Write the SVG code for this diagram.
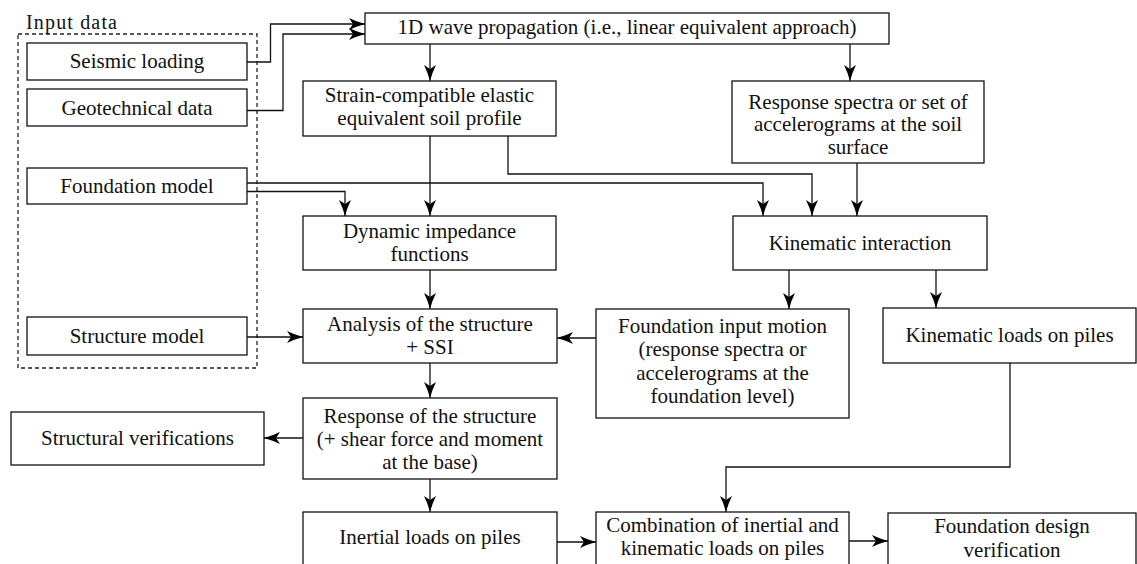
<svg xmlns="http://www.w3.org/2000/svg" width="1137" height="564" viewBox="0 0 1137 564" font-family="Liberation Serif, serif">
<style>
.box{fill:#fff;stroke:#111;stroke-width:1.3}
.dash{fill:none;stroke:#222;stroke-width:1.3;stroke-dasharray:4 3}
text{font-family:'Liberation Serif',serif;font-size:21px;fill:#111;text-anchor:middle}
.lbl{text-anchor:start;font-size:20px}
#connectors path{fill:none;stroke:#111;stroke-width:1.3}
</style>
<defs>
<marker id="arr" markerUnits="userSpaceOnUse" markerWidth="20" markerHeight="16" viewBox="-17 -8 18 16" refX="0" refY="0" orient="auto">
<path d="M0,0 Q-9,-2.5 -16,-6 L-12,0 L-16,6 Q-9,2.5 0,0 Z" fill="#000"/>
</marker>
</defs>
<rect width="1137" height="564" fill="#fff"/>
<g id="input-data">
<rect class="dash" x="18" y="34" width="239" height="334"/>
<text class="lbl" x="26" y="29" textLength="91">Input data</text>
</g>
<g id="connectors">
<path d="M247,62 H270.5 V24 H365" marker-end="url(#arr)"/>
<path d="M247,110.5 H283 V34 H365" marker-end="url(#arr)"/>
<path d="M430,44 V81" marker-end="url(#arr)"/>
<path d="M850,44 V81" marker-end="url(#arr)"/>
<path d="M430,136 V216" marker-end="url(#arr)"/>
<path d="M508,136 V174 H812 V216" marker-end="url(#arr)"/>
<path d="M247,183 H763 V216" marker-end="url(#arr)"/>
<path d="M247,191.5 H345 V216" marker-end="url(#arr)"/>
<path d="M857,163 V216" marker-end="url(#arr)"/>
<path d="M430,270 V309" marker-end="url(#arr)"/>
<path d="M247,337 H303" marker-end="url(#arr)"/>
<path d="M596,338 H557" marker-end="url(#arr)"/>
<path d="M789,270 V309" marker-end="url(#arr)"/>
<path d="M936,270 V308" marker-end="url(#arr)"/>
<path d="M430,363 V398" marker-end="url(#arr)"/>
<path d="M303,438 H264" marker-end="url(#arr)"/>
<path d="M430,479 V512" marker-end="url(#arr)"/>
<path d="M1010,363 V467 H726 V512" marker-end="url(#arr)"/>
<path d="M557,542 H596" marker-end="url(#arr)"/>
<path d="M849,541 H888" marker-end="url(#arr)"/>
</g>
<g id="seismic-loading">
<rect class="box" x="27" y="43" width="220" height="37"/>
<text x="137" y="68">Seismic loading</text>
</g>
<g id="geotechnical-data">
<rect class="box" x="27" y="89" width="220" height="37"/>
<text x="137" y="114.5">Geotechnical data</text>
</g>
<g id="foundation-model">
<rect class="box" x="27" y="168" width="220" height="36"/>
<text x="137" y="193">Foundation model</text>
</g>
<g id="structure-model">
<rect class="box" x="27" y="317" width="220" height="38"/>
<text x="137" y="343">Structure model</text>
</g>
<g id="wave-propagation">
<rect class="box" x="365" y="13" width="524" height="31"/>
<text x="627" y="34">1D wave propagation (i.e., linear equivalent approach)</text>
</g>
<g id="strain-compatible">
<rect class="box" x="303" y="81" width="253" height="55"/>
<text x="429.5" y="102">Strain-compatible elastic</text>
<text x="429.5" y="125">equivalent soil profile</text>
</g>
<g id="response-spectra">
<rect class="box" x="732" y="81" width="252" height="82"/>
<text x="858" y="109">Response spectra or set of</text>
<text x="858" y="131">accelerograms at the soil</text>
<text x="858" y="154">surface</text>
</g>
<g id="dynamic-impedance">
<rect class="box" x="303" y="216" width="253" height="54"/>
<text x="429.5" y="238">Dynamic impedance</text>
<text x="429.5" y="261">functions</text>
</g>
<g id="kinematic-interaction">
<rect class="box" x="733" y="216" width="254" height="54"/>
<text x="860" y="250">Kinematic interaction</text>
</g>
<g id="analysis">
<rect class="box" x="303" y="309" width="254" height="54"/>
<text x="430" y="331">Analysis of the structure</text>
<text x="430" y="354">+ SSI</text>
</g>
<g id="foundation-input-motion">
<rect class="box" x="596" y="309" width="253" height="109"/>
<text x="722.5" y="333">Foundation input motion</text>
<text x="722.5" y="356">(response spectra or</text>
<text x="722.5" y="380">accelerograms at the</text>
<text x="722.5" y="403">foundation level)</text>
</g>
<g id="kinematic-loads">
<rect class="box" x="883" y="308" width="253" height="55"/>
<text x="1009.5" y="342">Kinematic loads on piles</text>
</g>
<g id="response-structure">
<rect class="box" x="303" y="398" width="254" height="81"/>
<text x="430" y="423">Response of the structure</text>
<text x="430" y="446">(+ shear force and moment</text>
<text x="430" y="469">at the base)</text>
</g>
<g id="structural-verifications">
<rect class="box" x="11" y="412" width="253" height="53"/>
<text x="137.5" y="445">Structural verifications</text>
</g>
<g id="inertial-loads">
<rect class="box" x="303" y="512" width="254" height="70"/>
<text x="430" y="544">Inertial loads on piles</text>
</g>
<g id="combination">
<rect class="box" x="596" y="512" width="253" height="70"/>
<text x="722.5" y="532">Combination of inertial and</text>
<text x="722.5" y="555">kinematic loads on piles</text>
</g>
<g id="foundation-design">
<rect class="box" x="888" y="513" width="248" height="70"/>
<text x="1012" y="533">Foundation design</text>
<text x="1012" y="557">verification</text>
</g>
</svg>
